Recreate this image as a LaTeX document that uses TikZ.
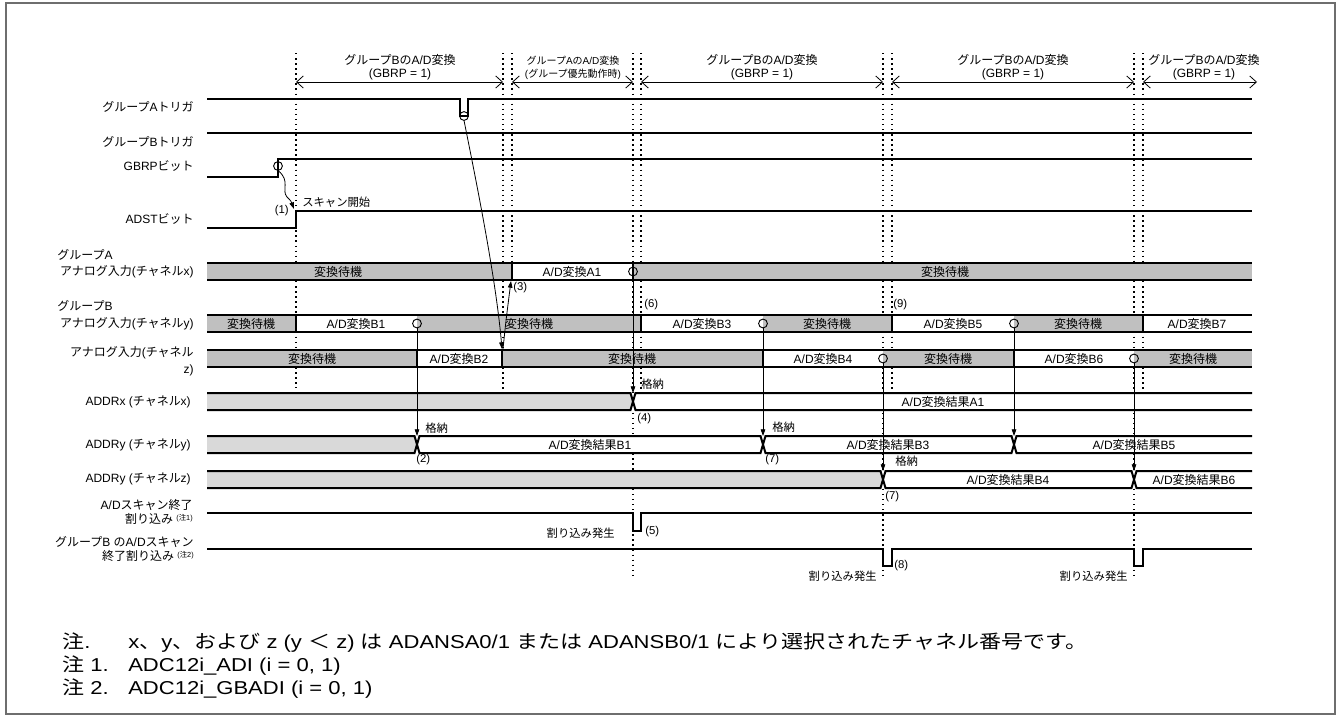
\documentclass[tikz,border=0pt]{standalone}
\usepackage{fontspec}
\setmainfont{Liberation Sans}
\newfontfamily\jpf{Noto Sans CJK JP}
\newfontfamily\latf{Liberation Sans}
\usetikzlibrary{arrows.meta}
\XeTeXinterchartokenstate=1
\newXeTeXintercharclass\JPcls
\makeatletter
\def\setjprange#1#2{\count@=#1\relax
  \loop\XeTeXcharclass\count@=\JPcls\relax
  \ifnum\count@<#2\relax\advance\count@ by 1\relax\repeat}
\setjprange{"3000}{"30FF}
\setjprange{"4E00}{"9FFF}
\setjprange{"FF00}{"FFEF}
\makeatother
\XeTeXinterchartoks 0 \JPcls = {\jpf}
\XeTeXinterchartoks 4095 \JPcls = {\jpf}
\XeTeXinterchartoks \JPcls 0 = {\latf}
\XeTeXinterchartoks \JPcls 4095 = {\latf}
\definecolor{gA}{RGB}{192,192,192}
\definecolor{gB}{RGB}{217,217,217}
\definecolor{frm}{RGB}{110,110,110}
% name, x1, x2, ytop, ybot, fill, text x, text
\newcommand\bseg[8]{\fill[#6] (#2,#4) rectangle (#3,#5);
  \node[txt] (#1) at (#7,{(#4+#5)/2}) {#8};}
\newcommand\wide[1]{\scalebox{1.18}[1]{#1}}
\begin{document}
\begin{tikzpicture}[x=0.75pt,y=-0.75pt,
  sig/.style={line width=1.5pt,line join=miter},
  brd/.style={line width=1.5pt},
  divl/.style={line width=2pt},
  dotl/.style={line width=1.1pt,dash pattern=on 1.1pt off 2.7pt},
  conn/.style={line width=0.6pt,-{Triangle[length=5pt,width=3.4pt]}},
  rng/.style={line width=0.6pt,{Straight Barb[length=5pt,width=9pt]}-{Straight Barb[length=5pt,width=9pt]}},
  mk/.style={draw,line width=0.7pt},
  lab/.style={font=\fontsize{9}{10.5}\selectfont,anchor=east,inner sep=0pt,align=right},
  txt/.style={font=\fontsize{9}{10.5}\selectfont,inner sep=0pt},
  tsm/.style={font=\fontsize{7.5}{9}\selectfont,inner sep=0pt},
  sm/.style={font=\fontsize{8.5}{10}\selectfont,inner sep=0pt},
  note/.style={font=\fontsize{14}{16}\selectfont,inner sep=0pt,anchor=base west},
  ]
\useasboundingbox (0,0) rectangle (1341,718);
\draw[line width=1.2pt,frm] (6,3) rectangle (1335,714);

% dotted guide lines
\foreach \x/\yb in {296/388,503/390,512/263,633/575,641/390,883/575,892/395,1134/575,1143/395}
  \draw[dotl] (\x,53) -- (\x,\yb);

% range arrows
\draw[rng] (296,82) -- (503,82);
\draw[rng] (512,82) -- (633,82);
\draw[rng] (641,82) -- (883,82);
\draw[rng] (892,82) -- (1134,82);
\draw[rng] (1143,82) -- (1257,82);
\node[txt] (r1a) at (400,60) {グループBのA/D変換};
\node[txt] (r1b) at (400,74) {(GBRP = 1)};
\node[tsm] (r2a) at (573,61) {グループAのA/D変換};
\node[tsm] (r2b) at (573,74) {(グループ優先動作時)};
\node[txt] (r3a) at (762,60) {グループBのA/D変換};
\node[txt] (r3b) at (762,74) {(GBRP = 1)};
\node[txt] (r4a) at (1013,60) {グループBのA/D変換};
\node[txt] (r4b) at (1013,74) {(GBRP = 1)};
\node[txt] (r5a) at (1204,60) {グループBのA/D変換};
\node[txt] (r5b) at (1204,74) {(GBRP = 1)};

% signals
\draw[sig] (207,99) -- (460,99) -- (460,116) -- (468,116) -- (468,99) -- (1252,99);
\draw[sig] (207,133) -- (1252,133);
\draw[sig] (207,177) -- (278,177) -- (278,159) -- (1252,159);
\draw[sig] (207,228) -- (296,228) -- (296,211) -- (1252,211);
\draw[sig] (207,513) -- (633,513) -- (633,531) -- (641,531) -- (641,513) -- (1252,513);
\draw[sig] (207,549) -- (883,549) -- (883,566) -- (892,566) -- (892,549) -- (1134,549) -- (1134,566) -- (1143,566) -- (1143,549) -- (1252,549);

% channel x
\bseg{x1}{207}{512}{263}{280}{gA}{338}{変換待機}
\bseg{x2}{512}{633}{263}{280}{white}{572}{A/D変換A1}
\bseg{x3}{633}{1252}{263}{280}{gA}{945}{変換待機}
\draw[brd] (207,263) -- (1252,263) (207,280) -- (1252,280);
\draw[divl] (512,263) -- (512,280) (633,263) -- (633,280);
% channel y
\bseg{y1}{207}{296}{315}{332}{gA}{251}{変換待機}
\bseg{y2}{296}{417}{315}{332}{white}{356}{A/D変換B1}
\bseg{y3}{417}{641}{315}{332}{gA}{529}{変換待機}
\bseg{y4}{641}{763}{315}{332}{white}{702}{A/D変換B3}
\bseg{y5}{763}{892}{315}{332}{gA}{827}{変換待機}
\bseg{y6}{892}{1014}{315}{332}{white}{953}{A/D変換B5}
\bseg{y7}{1014}{1143}{315}{332}{gA}{1078}{変換待機}
\bseg{y8}{1143}{1252}{315}{332}{white}{1197}{A/D変換B7}
\draw[brd] (207,315) -- (1252,315) (207,332) -- (1252,332);
\draw[divl] (296,315) -- (296,332) (641,315) -- (641,332) (892,315) -- (892,332) (1143,315) -- (1143,332);
% channel z
\bseg{z1}{207}{417}{350}{367}{gA}{312}{変換待機}
\bseg{z2}{417}{502}{350}{367}{white}{459}{A/D変換B2}
\bseg{z3}{502}{763}{350}{367}{gA}{632}{変換待機}
\bseg{z4}{763}{883}{350}{367}{white}{823}{A/D変換B4}
\bseg{z5}{883}{1014}{350}{367}{gA}{948}{変換待機}
\bseg{z6}{1014}{1134}{350}{367}{white}{1074}{A/D変換B6}
\bseg{z7}{1134}{1252}{350}{367}{gA}{1193}{変換待機}
\draw[brd] (207,350) -- (1252,350) (207,367) -- (1252,367);
\draw[divl] (417,350) -- (417,367) (502,350) -- (502,367) (763,350) -- (763,367) (1014,350) -- (1014,367);

% ADDRx
\fill[white] (207,393) rectangle (1252,410);
\fill[gB] (207,393) -- (630.5,393) -- (633,401.5) -- (630.5,410) -- (207,410) -- cycle;
\draw[brd] (207,393) -- (630.5,393) -- (635.5,410) -- (1252,410);
\draw[brd] (207,410) -- (630.5,410) -- (635.5,393) -- (1252,393);
\node[txt] (ax1) at (943,401.5) {A/D変換結果A1};
% ADDRy (y)
\fill[white] (207,436) rectangle (1252,453);
\fill[gB] (207,436) -- (414.5,436) -- (417,444.5) -- (414.5,453) -- (207,453) -- cycle;
\draw[brd] (207,436) -- (414.5,436) -- (419.5,453) -- (760.5,453) -- (765.5,436) -- (1011.5,436) -- (1016.5,453) -- (1252,453);
\draw[brd] (207,453) -- (414.5,453) -- (419.5,436) -- (760.5,436) -- (765.5,453) -- (1011.5,453) -- (1016.5,436) -- (1252,436);
\node[txt] (ay1) at (590,444.5) {A/D変換結果B1};
\node[txt] (ay2) at (888,444.5) {A/D変換結果B3};
\node[txt] (ay3) at (1134,444.5) {A/D変換結果B5};
% ADDRy (z)
\fill[white] (207,471) rectangle (1252,488);
\fill[gB] (207,471) -- (880.5,471) -- (883,479.5) -- (880.5,488) -- (207,488) -- cycle;
\draw[brd] (207,471) -- (880.5,471) -- (885.5,488) -- (1131.5,488) -- (1136.5,471) -- (1252,471);
\draw[brd] (207,488) -- (880.5,488) -- (885.5,471) -- (1131.5,471) -- (1136.5,488) -- (1252,488);
\node[txt] (az1) at (1008,479.5) {A/D変換結果B4};
\node[txt] (az2) at (1194,479.5) {A/D変換結果B6};

% markers and connectors
\coordinate (cG) at (278,166);
\coordinate (cT) at (464,116);
\coordinate (cA1) at (633,271.5);
\coordinate (cB1) at (417,323.5);
\coordinate (cB3) at (763,323.5);
\coordinate (cB5) at (1014,323.5);
\coordinate (cB4) at (883,358.5);
\coordinate (cB6) at (1134,358.5);
\coordinate (tA1) at (633,393);
\coordinate (tB1) at (417,436);
\coordinate (tB3) at (763,436);
\coordinate (tB5) at (1014,436);
\coordinate (tB4) at (883,471);
\coordinate (tB6) at (1134,471);
\coordinate (tAD) at (294,209);
\coordinate (tB2) at (502,349);
\coordinate (tA0) at (511,281);
\foreach \c in {cG,cT,cA1,cB1,cB3,cB5,cB4,cB6}
  \draw[mk] (\c) circle[radius=3.3pt];
\draw[conn] (cA1) ++(0,4.5) -- (tA1);
\draw[conn] (cB1) ++(0,4.5) -- (tB1);
\draw[conn] (cB3) ++(0,4.5) -- (tB3);
\draw[conn] (cB5) ++(0,4.5) -- (tB5);
\draw[conn] (cB4) ++(0,4.5) -- (tB4);
\draw[conn] (cB6) ++(0,4.5) -- (tB6);
\draw[conn] (cG) ++(0,4.5) .. controls (291,181) and (281,190) .. (287,197) .. controls (291,201) .. (tAD);
\draw[conn] (cT) ++(0,4.5) .. controls (478,190) and (496,280) .. (tB2);
\draw[conn] (503,349) .. controls (506,320) .. (tA0);

% small labels
\node[sm,anchor=east] (n1) at (289,211) {(1)};
\node[sm,anchor=west] (st) at (302,202) {スキャン開始};
\node[sm,anchor=west] (n3) at (513,288) {(3)};
\node[sm,anchor=west] (n6) at (644,305) {(6)};
\node[sm,anchor=west] (n9) at (893,305) {(9)};
\node[sm,anchor=west] (k1) at (641,384) {格納};
\node[sm,anchor=west] (n4) at (637,419) {(4)};
\node[sm,anchor=west] (k2) at (425,428) {格納};
\node[sm,anchor=west] (n2) at (416,460) {(2)};
\node[sm,anchor=west] (k3) at (772,427) {格納};
\node[sm,anchor=west] (n7a) at (765,460) {(7)};
\node[sm,anchor=west] (k4) at (895,461) {格納};
\node[sm,anchor=west] (n7b) at (885,497) {(7)};
\node[sm,anchor=east] (w1) at (615,533) {割り込み発生};
\node[sm,anchor=west] (n5) at (645,532) {(5)};
\node[sm,anchor=west] (n8) at (894,566) {(8)};
\node[sm,anchor=east] (w2) at (877,576) {割り込み発生};
\node[sm,anchor=east] (w3) at (1128,576) {割り込み発生};

% row labels
\node[lab] (l1) at (194,107) {グループAトリガ};
\node[lab] (l2) at (194,142) {グループBトリガ};
\node[lab] (l3) at (194,166) {GBRPビット};
\node[lab] (l4) at (194,219) {ADSTビット};
\node[lab,anchor=west] (l5) at (57,255) {グループA};
\node[lab] (l6) at (194,272) {アナログ入力(チャネルx)};
\node[lab,anchor=west] (l7) at (57,306) {グループB};
\node[lab] (l8) at (194,324) {アナログ入力(チャネルy)};
\node[lab,font=\fontsize{9}{13}\selectfont] (l9) at (194,361.5) {アナログ入力(チャネル\\z)};
\node[lab] (l10) at (191,402) {ADDRx (チャネルx)};
\node[lab] (l11) at (191,445) {ADDRy (チャネルy)};
\node[lab] (l12) at (191,479) {ADDRy (チャネルz)};
\node[lab] (l13) at (193,512) {A/Dスキャン終了\\割り込み {\fontsize{5.5}{6}\selectfont\raisebox{2pt}{(注1)}}};
\node[lab] (l14) at (194,549) {グループB のA/Dスキャン\\終了割り込み {\fontsize{5.5}{6}\selectfont\raisebox{2pt}{(注2)}}};

% notes
\node[note] (nt0) at (62,648) {\wide{注.}};
\node[note] (nt0t) at (128,648) {\wide{x、y、および z (y ＜ z) は ADANSA0/1 または ADANSB0/1 により選択されたチャネル番号です。}};
\node[note] (nt1) at (62,671) {\wide{注 1.}};
\node[note] (nt1t) at (128,671) {\wide{ADC12i\_ADI (i = 0, 1)}};
\node[note] (nt2) at (62,694) {\wide{注 2.}};
\node[note] (nt2t) at (128,694) {\wide{ADC12i\_GBADI (i = 0, 1)}};
\end{tikzpicture}
\end{document}
